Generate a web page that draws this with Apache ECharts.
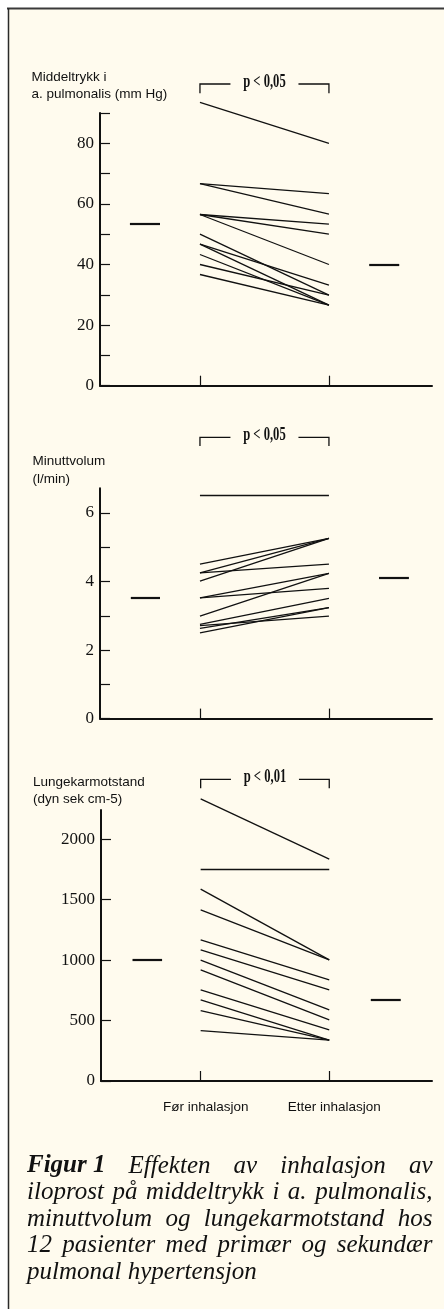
<!DOCTYPE html>
<html>
<head>
<meta charset="utf-8">
<script src="https://cdn.jsdelivr.net/npm/echarts@6/dist/echarts.min.js"></script>
<style>
html, body { margin: 0; padding: 0; background: #ffffff; }
#chart { width: 444px; height: 1309px; }
</style>
</head>
<body>
<div id="chart"></div>
<script>
// ---------------- DATA ----------------
const groups = ['Før inhalasjon', 'Etter inhalasjon'];

// Panel 1: Middeltrykk i a. pulmonalis (mm Hg)
const pressureBefore = [93.5, 66.7, 66.7, 56.5, 56.5, 56.5, 50.0, 46.7, 46.7, 43.3, 40.0, 36.7];
const pressureAfter  = [80.0, 63.4, 56.6, 53.3, 50.0, 40.0, 29.9, 33.2, 26.6, 26.6, 29.9, 26.6];
const pressureMean   = [53.3, 39.9];
const pressureTicks  = [0, 10, 20, 30, 40, 50, 60, 70, 80, 90];
const pressureLabels = [0, 20, 40, 60, 80];

// Panel 2: Minuttvolum (l/min)
const outputBefore = [6.51, 4.51, 4.25, 4.25, 4.01, 3.52, 3.52, 2.99, 2.75, 2.71, 2.63, 2.50];
const outputAfter  = [6.51, 5.26, 5.26, 4.51, 5.26, 4.24, 3.80, 4.24, 3.51, 2.99, 3.24, 3.24];
const outputMean   = [3.52, 4.11];
const outputTicks  = [0, 1, 2, 3, 4, 5, 6];
const outputLabels = [0, 2, 4, 6];

// Panel 3: Lungekarmotstand (dyn sek cm-5)
const resistBefore = [2334, 1752, 1587, 1416, 1167, 1084, 1000, 919, 753, 671, 582, 417];
const resistAfter  = [1835, 1752, 1002, 1002, 836, 753, 588, 505, 422, 339, 339, 339];
const resistMean   = [1000, 673];
const resistTicks  = [0, 500, 1000, 1500, 2000];
const resistLabels = [0, 500, 1000, 1500, 2000];

const pValues = ['p < 0,05', 'p < 0,05', 'p < 0,01'];
const yTitles = [
  ['Middeltrykk i', 'a. pulmonalis (mm Hg)'],
  ['Minuttvolum', '(l/min)'],
  ['Lungekarmotstand', '(dyn sek cm-5)']
];
const captionBold = 'Figur 1';
const captionLines = [
  ['Effekten', 'av', 'inhalasjon', 'av'],
  ['iloprost', 'på', 'middeltrykk', 'i', 'a.', 'pulmonalis,'],
  ['minuttvolum', 'og', 'lungekarmotstand', 'hos'],
  ['12', 'pasienter', 'med', 'primær', 'og', 'sekundær'],
  ['pulmonal', 'hypertensjon']
];

// ---------------- LAYOUT ----------------
const INK = '#111111';
const CREAM = '#FFFBEE';
const SERIF = '"Liberation Serif", "Times New Roman", serif';
const SANS = '"Liberation Sans", Arial, sans-serif';
const X_MIN = -0.775, X_MAX = 1.799;
// horizontal extent (in group units) of the mean bars beside the pairs
const meanSpans = [
  [[-0.543, -0.310], [1.312, 1.545]],
  [[-0.536, -0.310], [1.388, 1.620]],
  [[-0.530, -0.300], [1.323, 1.556]]
];

const panels = [
  { before: pressureBefore, after: pressureAfter, mean: pressureMean, ticks: pressureTicks, labels: pressureLabels,
    max: 90, grid: { left: 100, right: 12, top: 113, height: 272.7 },
    bracketY: 84, legY: 93.3, pY: 82, titleY: [77.7, 94], titleX: 31.5 },
  { before: outputBefore, after: outputAfter, mean: outputMean, ticks: outputTicks, labels: outputLabels,
    max: 6.72, grid: { left: 100, right: 12, top: 488.3, height: 230.3 },
    bracketY: 437.3, legY: 446, pY: 435.5, titleY: [461.7, 479], titleX: 32.5 },
  { before: resistBefore, after: resistAfter, mean: resistMean, ticks: resistTicks, labels: resistLabels,
    max: 2242, grid: { left: 101, right: 12, top: 810, height: 271 },
    bracketY: 779.3, legY: 788.3, pY: 777, titleY: [782.7, 799.3], titleX: 33 }
];

const grids = [], xAxes = [], yAxes = [], series = [];
panels.forEach((p, i) => {
  grids.push(Object.assign({ containLabel: false }, p.grid));
  xAxes.push({
    type: 'value', gridIndex: i, min: X_MIN, max: X_MAX,
    splitLine: { show: false },
    axisLine: { show: true, onZero: false, lineStyle: { color: INK, width: 2 } },
    axisTick: { show: true, inside: true, length: 10, customValues: [0, 1], lineStyle: { color: INK, width: 1.2 } },
    axisLabel: i === 2 ? {
      show: true, customValues: [0, 1], formatter: v => groups[Math.round(v)],
      fontFamily: SANS, fontSize: 13.5, color: INK, margin: 19, padding: [0, 0, 0, 10]
    } : { show: false }
  });
  yAxes.push({
    type: 'value', gridIndex: i, min: 0, max: p.max,
    splitLine: { show: false },
    axisLine: { show: true, onZero: false, lineStyle: { color: INK, width: 2 } },
    axisTick: { show: true, inside: true, length: 10, customValues: p.ticks, lineStyle: { color: INK, width: 1.2 } },
    axisLabel: { show: true, customValues: p.labels, formatter: v => String(v),
      fontFamily: SERIF, fontSize: 17, color: INK, margin: 6 }
  });
  series.push({
    type: 'lines', coordinateSystem: 'cartesian2d', xAxisIndex: i, yAxisIndex: i,
    polyline: false, silent: true, clip: false,
    lineStyle: { color: INK, width: 1.3, opacity: 1 },
    data: p.before.map((b, k) => ({ coords: [[0, b], [1, p.after[k]]] }))
  });
  series.push({
    type: 'lines', coordinateSystem: 'cartesian2d', xAxisIndex: i, yAxisIndex: i,
    polyline: false, silent: true, clip: false,
    lineStyle: { color: INK, width: 2.2, opacity: 1 },
    data: p.mean.map((m, k) => ({ coords: [[meanSpans[i][k][0], m], [meanSpans[i][k][1], m]] }))
  });
});

const chart = echarts.init(document.getElementById('chart'), null, { renderer: 'canvas' });
chart.setOption({
  animation: false,
  backgroundColor: '#ffffff',
  grid: grids, xAxis: xAxes, yAxis: yAxes, series: series
});

// ---------------- DECORATION (bracket, titles, caption) ----------------
const g = [];
g.push({ type: 'rect', z: -100, silent: true, shape: { x: 8, y: 8, width: 436, height: 1301 }, style: { fill: CREAM } });
g.push({ type: 'line', z: 100, silent: true, shape: { x1: 7, y1: 8.5, x2: 444, y2: 8.5 }, style: { stroke: '#3a3a3a', lineWidth: 2 } });
g.push({ type: 'line', z: 100, silent: true, shape: { x1: 8.5, y1: 8, x2: 8.5, y2: 1309 }, style: { stroke: '#2a2a2a', lineWidth: 1.5 } });

panels.forEach((p, i) => {
  const x0 = chart.convertToPixel({ gridIndex: i }, [0, 0])[0];
  const x1 = chart.convertToPixel({ gridIndex: i }, [1, 0])[0];
  const cx = (x0 + x1) / 2;
  const half = 34;
  const st = { stroke: INK, lineWidth: 1.3 };
  g.push({ type: 'polyline', silent: true, shape: { points: [[x0, p.legY], [x0, p.bracketY], [cx - half, p.bracketY]] }, style: Object.assign({ fill: null }, st) });
  g.push({ type: 'polyline', silent: true, shape: { points: [[cx + half, p.bracketY], [x1, p.bracketY], [x1, p.legY]] }, style: Object.assign({ fill: null }, st) });
  g.push({ type: 'text', silent: true, x: cx, y: p.pY, scaleX: 0.7,
    style: { text: pValues[i], font: 'bold 18px ' + SERIF, fill: INK, align: 'center', verticalAlign: 'middle' } });
  yTitles[i].forEach((t, k) => {
    g.push({ type: 'text', silent: true, x: p.titleX, y: p.titleY[k],
      style: { text: t, font: '13.5px ' + SANS, fill: INK, align: 'left', verticalAlign: 'middle' } });
  });
});

// justified caption
const ctx = document.createElement('canvas').getContext('2d');
const CAP_SIZE = 25;
const fontIt = 'italic ' + CAP_SIZE + 'px ' + SERIF;
const fontBoldIt = 'italic bold ' + CAP_SIZE + 'px ' + SERIF;
const CAP_LEFT = 27, CAP_RIGHT = 432.5, CAP_TOP = 1174, CAP_STEP = 26.6;
captionLines.forEach((words, li) => {
  const items = words.map(w => ({ text: w, font: fontIt }));
  if (li === 0) items.unshift({ text: captionBold, font: fontBoldIt });
  items.forEach(it => { ctx.font = it.font; it.w = ctx.measureText(it.text).width; });
  const total = items.reduce((s, it) => s + it.w, 0);
  const justify = li < captionLines.length - 1;
  ctx.font = fontIt;
  const gap = justify ? (CAP_RIGHT - CAP_LEFT - total) / (items.length - 1) : ctx.measureText(' ').width;
  let x = CAP_LEFT;
  const yBase = CAP_TOP + li * CAP_STEP;
  items.forEach(it => {
    g.push({ type: 'text', silent: true, x: x, y: yBase - 8,
      style: { text: it.text, font: it.font, fill: INK, align: 'left', verticalAlign: 'middle' } });
    x += it.w + gap;
  });
});

chart.setOption({ graphic: g });
</script>
</body>
</html>
